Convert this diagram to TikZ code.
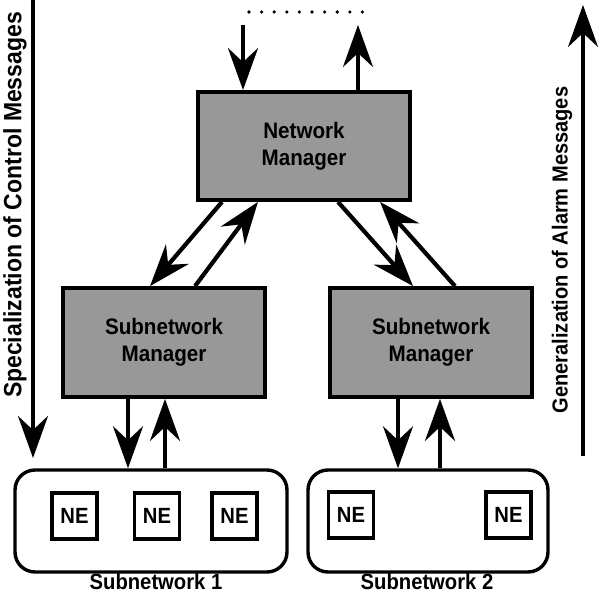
\documentclass[tikz,border=0pt]{standalone}
\usepackage{fontspec}
\setmainfont{Liberation Sans}[FakeStretch=0.92]
\usetikzlibrary{arrows.meta}
\definecolor{boxgray}{HTML}{989898}
\begin{document}
\begin{tikzpicture}[x=1pt,y=-1pt,
  mgr/.style={draw=black,line width=3.8pt,fill=boxgray,align=center,
    font=\bfseries\fontsize{22.4}{27}\selectfont,inner sep=0pt},
  subnet/.style={draw=black,line width=3.4pt,rounded corners=20pt,inner sep=0pt},
  nebox/.style={draw=black,line width=3.4pt,fill=white,minimum width=45pt,
    minimum height=46pt,inner sep=0pt,font=\bfseries\fontsize{22}{24}\selectfont},
  lbl/.style={font=\bfseries\fontsize{22}{24}\selectfont,inner sep=0pt},
  sidelbl/.style={rotate=90,inner sep=0pt},
  arr/.style={line width=4.2pt,-{Stealth[length=42pt,width=30pt,inset=14pt]}},
  sidearr/.style={line width=3.2pt,-{Stealth[length=42pt,width=30pt,inset=14pt]}}]
\useasboundingbox (0,0) rectangle (600,596);

% boxes
\node[mgr,minimum width=212pt,minimum height=108pt] (nm) at (304,146) {Network\\Manager};
\node[mgr,minimum width=202pt,minimum height=109pt] (sm1) at (164,342.5) {Subnetwork\\Manager};
\node[mgr,minimum width=202pt,minimum height=109pt] (sm2) at (431,342.5) {Subnetwork\\Manager};
\node[subnet,minimum width=272pt,minimum height=102pt] (sn1) at (151,521) {};
\node[subnet,minimum width=240pt,minimum height=102pt] (sn2) at (428,521) {};

\node[nebox] (ne1) at (74.5,516) {NE};
\node[nebox] (ne2) at (157,516) {NE};
\node[nebox] (ne3) at (234.5,516) {NE};
\node[nebox] (ne4) at (351,515) {NE};
\node[nebox] (ne5) at (508.5,515) {NE};

\node[lbl] (l1) at (156,582) {Subnetwork 1};
\node[lbl] (l2) at (427,582) {Subnetwork 2};

% top open ends
\coordinate (tin) at (243,25);
\coordinate (tout) at (358,25);
\foreach \i in {0,...,9} \fill (249+12.6*\i,12) circle (1.8pt);
\draw[arr] (tin) -- (tin |- nm.north);
\draw[arr] (tout |- nm.north) -- (tout);

% manager links
\draw[arr] ([xshift=-82pt]nm.south) -- ([xshift=-14pt]sm1.north);
\draw[arr] ([xshift=31pt]sm1.north) -- ([xshift=-46pt]nm.south);
\draw[arr] ([xshift=34pt]nm.south) -- ([xshift=-18pt]sm2.north);
\draw[arr] ([xshift=24pt]sm2.north) -- ([xshift=76pt]nm.south);

% manager to subnetwork
\draw[arr] (sm1.south -| 128,0) -- (sn1.north -| 128,0);
\draw[arr] (sn1.north -| 165,0) -- (sm1.south -| 165,0);
\draw[arr] (sm2.south -| 398,0) -- (sn2.north -| 398,0);
\draw[arr] (sn2.north -| 440,0) -- (sm2.south -| 440,0);

% side arrows
\coordinate (ls) at (33,0);
\coordinate (le) at (33,458);
\coordinate (rs) at (583,456);
\coordinate (re) at (583,5);
\draw[sidearr] (ls) -- (le);
\draw[sidearr] (rs) -- (re);
\node[sidelbl,font=\bfseries\fontsize{25}{27}\selectfont] (lt) at (15,205) {Specialization of Control Messages};
\node[sidelbl,font=\bfseries\fontsize{21.8}{24}\selectfont] (rt) at (562,250) {Generalization of Alarm Messages};
\end{tikzpicture}
\end{document}
